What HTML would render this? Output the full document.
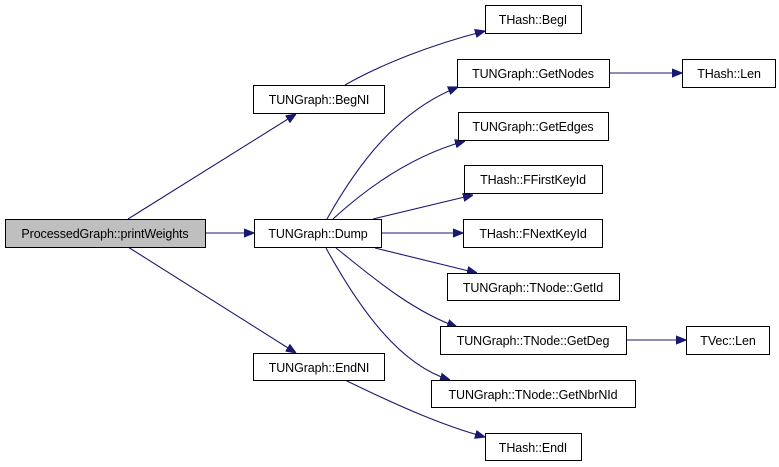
<!DOCTYPE html>
<html><head><meta charset="utf-8"><style>
html,body{margin:0;padding:0;background:#fff;}
svg{display:block}
text{font-family:"Liberation Sans",sans-serif;font-size:12.5px;letter-spacing:-0.1px;fill:#000;text-anchor:middle}
rect{fill:#fff;stroke:#000;stroke-width:1}
path{fill:none;stroke:#191970;stroke-width:1.1}
</style></head><body>
<svg width="779" height="467" viewBox="0 0 779 467" xmlns="http://www.w3.org/2000/svg">
<defs><marker id="a" viewBox="0 0 10 10" refX="10" refY="5" markerWidth="10" markerHeight="10" markerUnits="userSpaceOnUse" orient="auto"><path d="M0,1 L10,5 L0,9 Z" style="fill:#191970;stroke:#191970"/></marker></defs>
<g marker-end="url(#a)">
<path d="M128,219 L296,114"/>
<path d="M205,233 L254,233"/>
<path d="M128,247 L296,353"/>
<path d="M345,85 C380,65 430,45 485,31"/>
<path d="M327,219 C360,160 400,110 458,87"/>
<path d="M333,219 C370,185 415,155 465,141"/>
<path d="M373,219 L473,195"/>
<path d="M381,233 L463,233"/>
<path d="M375,248 L477,273"/>
<path d="M336,248 C370,275 410,310 457,327"/>
<path d="M326,248 C360,310 400,365 450,380"/>
<path d="M345,380 C390,402 440,425 485,437"/>
<path d="M609,73 L682,73"/>
<path d="M626,340 L686,340"/>
</g>
<rect x="5.5" y="219.5" width="200" height="28" style="fill:#bfbfbf"/><text x="105" y="238">ProcessedGraph::printWeights</text>
<rect x="253.5" y="85.5" width="131" height="28"/><text x="319" y="104">TUNGraph::BegNI</text>
<rect x="254.5" y="219.5" width="127" height="28"/><text x="318" y="238">TUNGraph::Dump</text>
<rect x="253.5" y="353.5" width="131" height="27"/><text x="319" y="372">TUNGraph::EndNI</text>
<rect x="485.5" y="5.5" width="96" height="28"/><text x="533" y="24">THash::BegI</text>
<rect x="457.5" y="59.5" width="152" height="28"/><text x="533" y="78">TUNGraph::GetNodes</text>
<rect x="682.5" y="59.5" width="93" height="28"/><text x="729" y="78">THash::Len</text>
<rect x="458.5" y="112.5" width="150" height="28"/><text x="533" y="131">TUNGraph::GetEdges</text>
<rect x="464.5" y="165.5" width="138" height="28"/><text x="533" y="184">THash::FFirstKeyId</text>
<rect x="463.5" y="219.5" width="139" height="28"/><text x="533" y="238">THash::FNextKeyId</text>
<rect x="447.5" y="273.5" width="172" height="27"/><text x="533" y="292">TUNGraph::TNode::GetId</text>
<rect x="440.5" y="326.5" width="186" height="28"/><text x="533" y="345">TUNGraph::TNode::GetDeg</text>
<rect x="686.5" y="326.5" width="83" height="28"/><text x="728" y="345">TVec::Len</text>
<rect x="431.5" y="380.5" width="204" height="27"/><text x="533" y="399">TUNGraph::TNode::GetNbrNId</text>
<rect x="485.5" y="433.5" width="96" height="27"/><text x="533" y="452">THash::EndI</text>
</svg>
</body></html>
